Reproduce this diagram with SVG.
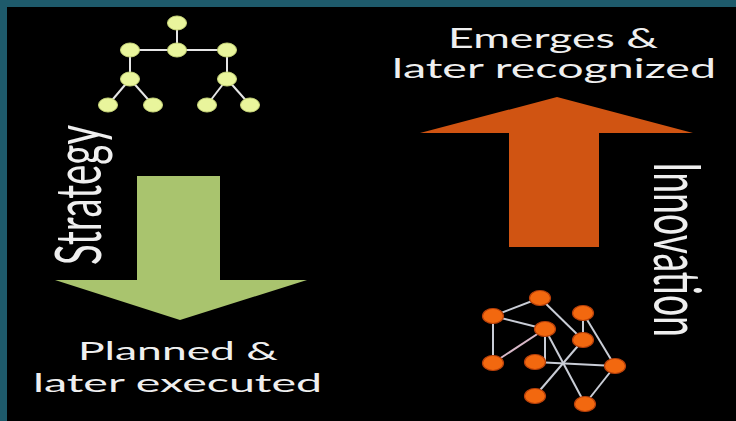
<svg xmlns="http://www.w3.org/2000/svg" width="736" height="421" viewBox="0 0 736 421">
<style>
.lbl{font-family:Lato,"Open Sans","Liberation Sans",sans-serif;fill:#efefef}
.tn{fill:#e9f59c;stroke:#c9d77a;stroke-width:1}
.te{stroke:#e6e6e6;stroke-width:2;fill:none}
.on{fill:#f2680f;stroke:#b8400a;stroke-width:1.2}
.oe{stroke:#c9cdd6;stroke-width:2;fill:none}
</style>
<rect x="0" y="0" width="736" height="421" fill="#1e5a6b"/>
<rect x="7" y="7" width="729" height="414" fill="#000"/>

<g id="tree">
  <g class="te">
    <line x1="177" y1="23" x2="177" y2="50"/>
    <line x1="130" y1="50" x2="227" y2="50"/>
    <line x1="130" y1="50" x2="130" y2="79"/>
    <line x1="227" y1="50" x2="227" y2="79"/>
    <line x1="130" y1="79" x2="108" y2="105"/>
    <line x1="130" y1="79" x2="153" y2="105"/>
    <line x1="227" y1="79" x2="207" y2="105"/>
    <line x1="227" y1="79" x2="250" y2="105"/>
  </g>
  <ellipse class="tn" cx="177" cy="23" rx="9.5" ry="7"/>
  <ellipse class="tn" cx="130" cy="50" rx="9.5" ry="7"/>
  <ellipse class="tn" cx="177" cy="50" rx="9.5" ry="7"/>
  <ellipse class="tn" cx="227" cy="50" rx="9.5" ry="7"/>
  <ellipse class="tn" cx="130" cy="79" rx="9.5" ry="7"/>
  <ellipse class="tn" cx="227" cy="79" rx="9.5" ry="7"/>
  <ellipse class="tn" cx="108" cy="105" rx="9.5" ry="7"/>
  <ellipse class="tn" cx="153" cy="105" rx="9.5" ry="7"/>
  <ellipse class="tn" cx="207" cy="105" rx="9.5" ry="7"/>
  <ellipse class="tn" cx="250" cy="105" rx="9.5" ry="7"/>
</g>

<g id="strategy-arrow">
  <polygon points="137,176 220,176 220,280 307,280 180,320 55,280 137,280" fill="#a9c46e"/>
</g>

<g id="innovation-arrow">
  <polygon points="509,247 599,247 599,133 693,133 557,97 420,133 509,133" fill="#d05412"/>
</g>

<g id="network">
  <g class="oe">
    <line x1="540" y1="298" x2="493" y2="316"/>
    <line x1="540" y1="298" x2="583" y2="340"/>
    <line x1="583" y1="313" x2="583" y2="340"/>
    <line x1="583" y1="313" x2="615" y2="366"/>
    <line x1="493" y1="316" x2="545" y2="329"/>
    <line x1="493" y1="316" x2="493" y2="363"/>
    <line x1="493" y1="363" x2="545" y2="329" stroke="#d8b8c8"/>
    <line x1="545" y1="329" x2="585" y2="404"/>
    <line x1="545" y1="329" x2="545" y2="362"/>
    <line x1="583" y1="340" x2="535" y2="396"/>
    <line x1="535" y1="362" x2="615" y2="366"/>
    <line x1="615" y1="366" x2="585" y2="404"/>
  </g>
  <ellipse class="on" cx="540" cy="298" rx="10.5" ry="7.5"/>
  <ellipse class="on" cx="583" cy="313" rx="10.5" ry="7.5"/>
  <ellipse class="on" cx="493" cy="316" rx="10.5" ry="7.5"/>
  <ellipse class="on" cx="545" cy="329" rx="10.5" ry="7.5"/>
  <ellipse class="on" cx="583" cy="340" rx="10.5" ry="7.5"/>
  <ellipse class="on" cx="493" cy="363" rx="10.5" ry="7.5"/>
  <ellipse class="on" cx="535" cy="362" rx="10.5" ry="7.5"/>
  <ellipse class="on" cx="615" cy="366" rx="10.5" ry="7.5"/>
  <ellipse class="on" cx="535" cy="396" rx="10.5" ry="7.5"/>
  <ellipse class="on" cx="585" cy="404" rx="10.5" ry="7.5"/>
</g>

<g id="labels">
  <text class="lbl" x="448" y="48" font-size="26" textLength="210" lengthAdjust="spacingAndGlyphs">Emerges &amp;</text>
  <text class="lbl" x="392" y="78" font-size="26" textLength="324" lengthAdjust="spacingAndGlyphs">later recognized</text>
  <text class="lbl" x="78" y="360" font-size="25" textLength="200" lengthAdjust="spacingAndGlyphs">Planned &amp;</text>
  <text class="lbl" x="33" y="392" font-size="25" textLength="289" lengthAdjust="spacingAndGlyphs">later executed</text>
  <text class="lbl" transform="translate(101,265) rotate(-90)" x="0" y="0" font-size="64" textLength="140" lengthAdjust="spacingAndGlyphs">Strategy</text>
  <text class="lbl" transform="translate(654,162) rotate(90)" x="0" y="0" font-size="66" textLength="175" lengthAdjust="spacingAndGlyphs">Innovation</text>
</g>
</svg>
